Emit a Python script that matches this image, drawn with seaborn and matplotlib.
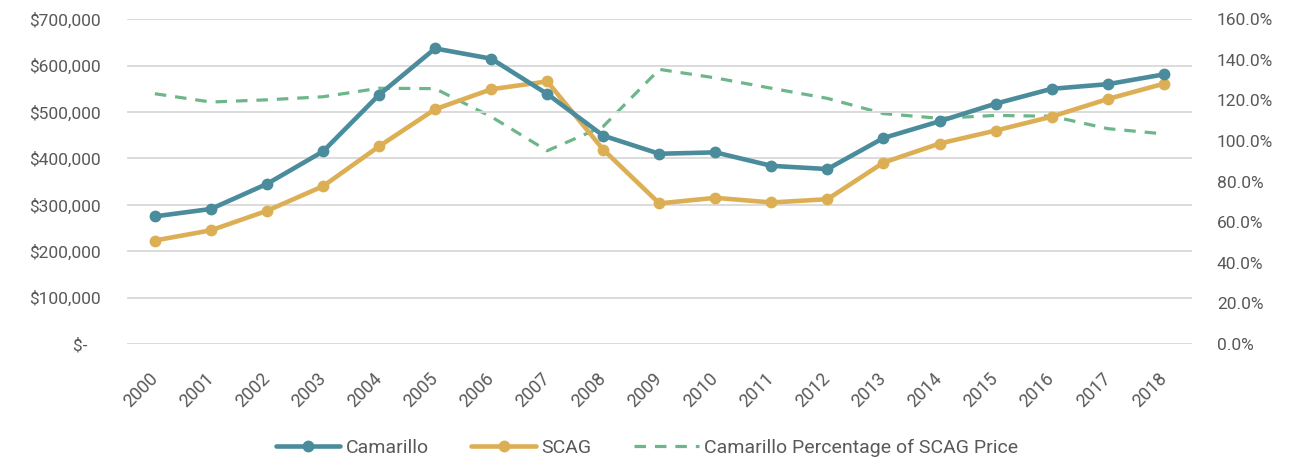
import pandas as pd
import matplotlib.pyplot as plt
import matplotlib.ticker as mticker
import matplotlib.transforms as mtransforms
from matplotlib.lines import Line2D
import seaborn as sns

# values
years = list(range(2000, 2019))
camarillo = [275000, 291000, 345000, 415000, 537000, 637000, 615000, 539000, 449000, 410000,
             413000, 384000, 377000, 444000, 480000, 518000, 550000, 560000, 581000]
scag = [223000, 245000, 287000, 340000, 426000, 506000, 549000, 566000, 419000, 303000,
        315000, 305000, 312000, 391000, 432000, 460000, 490000, 528000, 561000]
pct_of_scag = [123.3, 119.2, 120.3, 121.8, 126.0, 125.8, 112.0, 95.2, 107.2, 135.3,
               131.1, 126.0, 121.0, 113.5, 111.2, 112.6, 112.2, 106.1, 103.5]

teal = '#4A8C9C'
gold = '#DDAF55'
green = '#6DB68A'
text_col = '#595959'

df = pd.DataFrame({'idx': range(len(years)), 'Camarillo': camarillo, 'SCAG': scag,
                   'pct': pct_of_scag})

sns.set_theme(style='white')
plt.rcParams['font.family'] = ['Roboto', 'DejaVu Sans']

fig, ax = plt.subplots(figsize=(12.94, 4.58), dpi=100)
fig.subplots_adjust(left=0.098, right=0.921, top=0.958, bottom=0.249)

lw = 3.3
ms = 8.5
sns.lineplot(data=df, x='idx', y='Camarillo', ax=ax, color=teal, linewidth=lw,
             marker='o', markersize=ms, markeredgewidth=0, zorder=4)
sns.lineplot(data=df, x='idx', y='SCAG', ax=ax, color=gold, linewidth=lw,
             marker='o', markersize=ms, markeredgewidth=0, zorder=3)

ax2 = ax.twinx()
sns.lineplot(data=df, x='idx', y='pct', ax=ax2, color=green, linewidth=2.3,
             linestyle=(0, (3.6, 2.8)))
ax.set_zorder(ax2.get_zorder() + 1)
ax.patch.set_visible(False)

ax.set_xlim(-0.5, len(years) - 0.5)
ax.set_ylim(0, 700000)
ax2.set_ylim(0, 160)
ax.set_yticks(range(0, 700001, 100000))
ax2.set_yticks(range(0, 161, 20))

def money(v, pos):
    if v == 0:
        return '$-   '
    return f'${v:,.0f}'

ax.yaxis.set_major_formatter(mticker.FuncFormatter(money))
ax2.yaxis.set_major_formatter(mticker.FuncFormatter(lambda v, p: f'{v:.1f}%'))

ax.set_xticks(range(len(years)))
ax.set_xticklabels([str(y) for y in years], rotation=45, ha='right', va='center',
                   rotation_mode='anchor')
shift = mtransforms.ScaledTranslation(-7 / 100, 0, fig.dpi_scale_trans)
for lab in ax.get_xticklabels():
    lab.set_transform(lab.get_transform() + shift)
ax.set_xlabel('')
ax.set_ylabel('')
ax2.set_ylabel('')

ax.grid(axis='y', color='#D9D9D9', linewidth=1.3)
ax.grid(axis='x', visible=False)
ax2.grid(False)
for a in (ax, ax2):
    for s in a.spines.values():
        s.set_visible(False)
ax.tick_params(axis='y', length=0, pad=19, labelsize=12.5, labelcolor=text_col)
ax.tick_params(axis='x', length=0, pad=23, labelsize=13, labelcolor=text_col)
ax2.tick_params(axis='y', length=0, pad=18, labelsize=12.5, labelcolor=text_col)

handles = [
    Line2D([], [], color=teal, linewidth=lw, marker='o', markersize=ms, markeredgewidth=0),
    Line2D([], [], color=gold, linewidth=lw, marker='o', markersize=ms, markeredgewidth=0),
    Line2D([], [], color=green, linewidth=2.3, linestyle=(0, (3.6, 2.8))),
]
fig.legend(handles, ['Camarillo', 'SCAG', 'Camarillo Percentage of SCAG Price'],
           loc='lower center', bbox_to_anchor=(0.5, -0.035), ncol=3, frameon=False,
           handlelength=3.3, columnspacing=2.2, handletextpad=0.3, fontsize=14,
           labelcolor=text_col)

fig.savefig('out.png', dpi=100)
